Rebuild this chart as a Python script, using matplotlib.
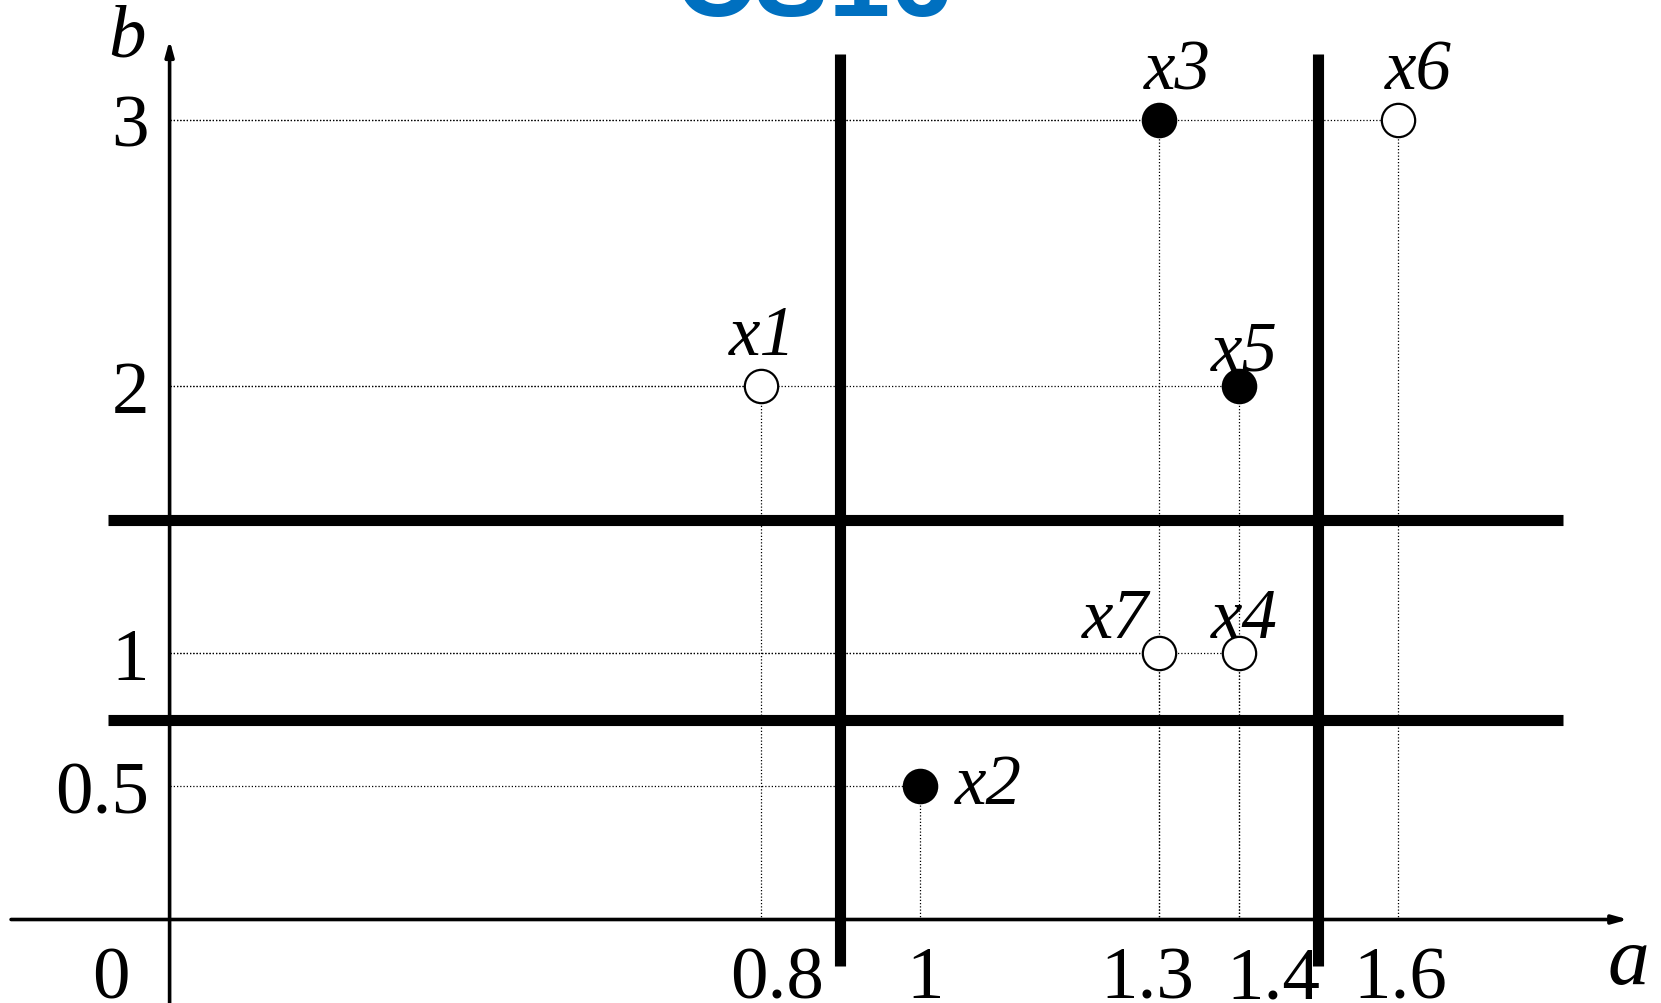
import matplotlib
matplotlib.use("Agg")
import matplotlib.pyplot as plt

# Objects in the (a, b) plane
names = ["x1", "x2", "x3", "x4", "x5", "x6", "x7"]
a_vals = [0.8, 1.0, 1.3, 1.4, 1.4, 1.6, 1.3]
b_vals = [2.0, 0.5, 3.0, 1.0, 2.0, 3.0, 1.0]
filled = [False, True, True, False, True, False, False]

# Tick labels on each axis
a_ticks = [0.8, 1, 1.3, 1.4, 1.6]
a_tick_labels = ["0.8", "1", "1.3", "1.4", "1.6"]
b_ticks = [0.5, 1, 2, 3]
b_tick_labels = ["0.5", "1", "2", "3"]

# Split thresholds
a_splits = [0.9, 1.5]
b_splits = [0.75, 1.5]

SERIF = "Liberation Serif"

fig = plt.figure(figsize=(16.61, 10.04), dpi=100)
ax = fig.add_axes([0, 0, 1, 1])
ax.set_xlim(-0.1549, 1.9302)
ax.set_ylim(-0.3133, 3.454)
ax.axis("off")

a_axis = 0.058  # where the vertical axis crosses

# Axes with arrows
arrow = dict(arrowstyle="-|>,head_length=0.9,head_width=0.25", lw=2.6,
             color="black", shrinkA=0, shrinkB=0)
ax.annotate("", xy=(1.889, 0), xytext=(-0.141, 0), arrowprops=arrow)
ax.annotate("", xy=(a_axis, 3.30), xytext=(a_axis, -0.32), arrowprops=arrow)

# Dotted guide lines from each point to the axes
for a, b in zip(a_vals, b_vals):
    ax.plot([a_axis, a], [b, b], color="black", lw=0.9, ls=(0, (1, 1.6)), zorder=2)
    ax.plot([a, a], [0, b], color="black", lw=0.9, ls=(0, (1, 1.6)), zorder=2)

# Split lines
for s in a_splits:
    ax.plot([s, s], [-0.174, 3.248], color="black", lw=8, solid_capstyle="butt", zorder=3)
for s in b_splits:
    ax.plot([-0.019, 1.8066], [s, s], color="black", lw=8, solid_capstyle="butt", zorder=3)

# Points
for a, b, f in zip(a_vals, b_vals, filled):
    ax.plot(a, b, marker="o", ms=24, mfc="black" if f else "white",
            mec="black", mew=1.6, zorder=5)

# Point labels (pixel offsets, ha)
label_pos = {
    "x1": ((2, 32), "center"),
    "x2": ((35, -17), "left"),
    "x3": ((18, 31), "center"),
    "x4": ((6, 16), "center"),
    "x5": ((6, 17), "center"),
    "x6": ((20, 31), "center"),
    "x7": ((-44, 16), "center"),
}
for n, a, b in zip(names, a_vals, b_vals):
    off, ha = label_pos[n]
    ax.annotate(n, xy=(a, b), xytext=off, textcoords="offset pixels",
                ha=ha, va="baseline", fontsize=51, family=SERIF,
                style="italic", zorder=6)

# Tick labels (horizontal nudges keep them clear of the split lines)
a_label_nudge = [16, 5, -12, 35, 2]
for t, lab, dx in zip(a_ticks, a_tick_labels, a_label_nudge):
    ax.annotate(lab, xy=(t, -0.292), xytext=(dx, 0), textcoords="offset pixels",
                ha="center", va="baseline", fontsize=54, family=SERIF)
for t, lab in zip(b_ticks, b_tick_labels):
    ax.text(0.032, t, lab, ha="right", va="center_baseline", fontsize=54, family=SERIF)
ax.text(-0.0156, -0.292, "0", ha="center", va="baseline", fontsize=54, family=SERIF)

# Axis names
ax.text(0.0045, 3.31, "b", ha="center", va="center", fontsize=54, family=SERIF, style="italic")
ax.text(1.889, -0.165, "a", ha="center", va="center", fontsize=60, family=SERIF, style="italic")

# Heading
fig.text(814 / 1661, 1 - 16 / 1004, "CS16", ha="center", va="baseline",
         fontsize=80, family="Liberation Sans", weight="bold", color="#0070C0")

fig.savefig("out.png", dpi=100)
